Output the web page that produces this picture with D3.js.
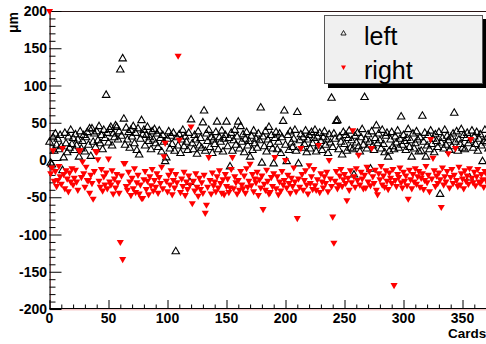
<!DOCTYPE html>
<html><head><meta charset="utf-8">
<script src="https://cdn.jsdelivr.net/npm/d3@7"></script>
<style>
html,body{margin:0;padding:0;background:#fff;overflow:hidden;}
svg{display:block;}
text{font-family:"Liberation Sans",Arial,Helvetica,sans-serif;}
</style></head><body>
<svg id="c" width="486" height="344"></svg>
<script>
// ---- data ----
const seriesNames = ["left", "right"];
const xTicks = [0, 50, 100, 150, 200, 250, 300, 350];
const yTicks = [-200, -150, -100, -50, 0, 50, 100, 150, 200];
const xTitle = "Cards";
const yTitle = "\u03bcm";
// values per card (card number = index)
const leftValues = [
 24, -4, -6, 30, 12, 35, 20, 28, 14, 33,
 18, -14, 3, 36, 22, 10, 31, 16, 40, 21,
 29, 13, 34, 19, 27, 4, 38, 15, 25, 33,
 11, 30, 37, 20, 42, 5, 42, 24, 35, 17,
 38, 26, 45, 22, 33, 14, 40, 29, 87, 36,
 23, 41, 44, 19, 35, 30, 46, 44, 27, 38,
 121, 32, 136, 55, 20, 43, 27, 37, 16, 40,
 31, 45, 22, 36, 13, 42, 7, 28, 53, 34,
 40, 19, 33, 44, 25, 30, 14, 38, 27, 41,
 22, 35, 17, 39, 29, 11, 33, 24, -2, 3,
 28, 38, 15, 32, 21, 36, 12, -123, 30, 19,
 34, 9, 27, 40, 18, 31, 24, 13, 36, -30,
 54, 22, 14, 33, 27, 8, 38, 19, 29, 16,
 50, 66, 12, 35, 25, 40, 17, 30, 9, 27,
 21, 37, 51, 14, 30, 24, 39, 11, 28, 33,
 51, 18, 29, -9, 36, 12, 26, 40, 20, 31,
 51, 15, 45, 24, 34, 10, 28, 37, 19, 25,
 4, 32, 13, 39, 22, 28, 16, 35, 26, 70,
 -4, 31, 18, 38, 11, 27, 44, 21, 33, 15,
 -5, 29, 37, 14, 24, 35, 9, 30, 52, 66,
 20, -2, 33, 13, 38, 23, 17, 28, 40, 12,
 64, -5, 26, 34, 16, 30, 21, 39, 10, 27,
 33, 15, 37, 22, 29, 40, 11, 31, 19, 36,
 25, 13, 30, 38, 20, 27, 9, 34, 23, 83,
 17, 35, 28, 52, 53, 14, 31, 24, 7, 37,
 21, 33, 12, 29, 39, 16, 26, 14, -20, 32,
 23, 36, 18, 11, 30, 41, 20, 84, 27, 15,
 34, 24, -12, 38, 19, 13, 29, 46, 22, 35,
 26, 15, 40, 21, 10, 32, 36, 4, 12, 27,
 37, 18, 14, 31, 23, 39, 16, 28, 58, 20,
 33, 25, 13, 29, 41, 17, 26, 4, 35, 15,
 22, 38, 27, 11, 30, 12, 59, 24, 36, 4,
 19, 33, 14, 39, 21, 28, 10, 34, 25, 17,
 37, -46, 23, 29, 15, 40, 20, 32, 26, 13,
 30, 18, 35, 63, 24, 38, 12, 27, 21, 41,
 16, 33, 14, 29, 36, 22, -24, 26, 39, 16,
 31, 21, 37, 12, 28, 34, 19, -2, 25, 40,
 23, 30, 15, 35, 20, 28
];
const rightValues = [
 200, -18, -10, 13, -28, -15, -35, -27, -8, -22,
 -32, 16, -19, -38, -14, -25, -42, -17, -29, -11,
 -33, -24, -13, -29, -40, 13, 13, -23, -2, -18,
 -36, -9, -27, -27, -44, -20, -31, -52, -15, 12,
 11, 1, -28, -36, -12, -41, -22, -33, -17, -38,
 2, -29, -33, -14, -45, -25, -37, -19, -30, -44,
 -110, -21, -133, -4, -4, -35, -40, -16, -29, -47,
 -24, -38, -11, -43, -30, -20, -45, -33, -51, -51,
 -26, -15, -39, -28, -46, -22, -34, -12, -41, -27,
 -36, -18, -44, -23, -31, -9, -38, 5, 23, -28,
 -42, -20, -33, -14, -46, -27, -37, -19, -30, 140,
 27, -43, -25, -35, -16, -47, -29, -39, -21, -33,
 45, -58, -28, -41, -18, -36, -48, -24, -39, -30,
 -44, -20, -71, -60, -36, 4, -27, -45, -17, -34,
 -29, -42, -22, -37, -14, -31, -44, -26, -46, -19,
 -35, -25, -43, -37, -12, 4, -38, -22, -30, -45,
 -27, -40, -15, -33, -38, -21, -44, -11, -36, -28,
 -5, -34, -19, -42, -25, -30, -16, -47, -26, -37,
 -21, -66, -32, -40, -13, -28, -45, -43, -23, -35,
 -18, 4, -38, -22, -46, -29, -41, -15, -33, -27,
 0, -37, -20, -31, -44, -24, -35, -10, -29, -42,
 -78, -25, -36, 16, -19, -40, -27, -14, -33, -45,
 -7, -31, -22, -39, -12, -34, -40, -26, 20, -43,
 -18, -29, -37, -22, -31, -16, -42, 0, -25, -35,
 -76, -111, -28, -15, -38, -33, -21, -12, -35, -26,
 -19, -31, -54, -24, -40, -14, -30, 40, -22, -36,
 -11, -27, 7, -33, -16, -25, -38, -20, -37, -9,
 -29, -15, -34, 16, -22, -31, -13, -40, -46, -18,
 -26, -8, -33, -21, -36, -14, -28, -39, -17, -24,
 -31, -12, -168, -27, -35, -19, -23, -10, -30, -37,
 -16, -28, -21, -34, -52, -13, -26, -38, -19, -29,
 -11, -32, -22, -15, -36, -24, -18, -39, -27, -8,
 -30, -20, -42, 28, -25, 3, -14, -35, -21, -31,
 -17, -26, -63, -10, -33, -22, -29, -15, 9, -37,
 -23, -12, -31, -20, 16, -27, -35, -9, -33, -18,
 -25, -38, -14, -28, -21, -32, -11, 28, -24, -30,
 -16, -34, -22, -12, -29, -31, -19, -26, -36, -15,
 -27, -20, -33, -13, -25, -18
];

// ---- drawing ----
const svg = d3.select("#c");
const W = 486, H = 344;
const x = d3.scaleLinear().domain([0, 400]).range([49.5, 521.5]);
const y = d3.scaleLinear().domain([-200, 200]).range([309, 11]);

const plot = svg.append("g");
// frame
plot.append("line").attr("x1", x(0)).attr("x2", W + 40).attr("y1", 11.5).attr("y2", 11.5)
  .attr("stroke", "#2a1515").attr("stroke-width", 1.2);
// red graph-frame tint just inside axes
plot.append("line").attr("x1", x(0) + 1).attr("x2", x(0) + 1).attr("y1", 11).attr("y2", 309)
  .attr("stroke", "#e05050").attr("stroke-width", 0.8).attr("opacity", 0.7);
plot.append("line").attr("x1", x(0)).attr("x2", W + 40).attr("y1", 309.8).attr("y2", 309.8)
  .attr("stroke", "#e05050").attr("stroke-width", 0.8).attr("opacity", 0.6);

// y axis (ticks inside)
const yMinor = d3.range(-200, 201, 10).filter(v => v % 50 !== 0);
const yAxis = d3.axisRight(y).tickValues(yTicks).tickSize(12).tickFormat("");
const gy = svg.append("g").attr("transform", `translate(${x(0)},0)`).call(yAxis);
gy.select(".domain").attr("stroke", "#000").attr("d", `M0.5,${y(200)}V${y(-200)}`);
gy.selectAll(".tick line").attr("stroke", "#000");
const gyMinor = svg.append("g").attr("transform", `translate(${x(0)},0)`)
  .call(d3.axisRight(y).tickValues(yMinor).tickSize(6).tickFormat(""));
gyMinor.select(".domain").remove();
gyMinor.selectAll(".tick line").attr("stroke", "#000");
svg.append("g").selectAll("text").data(yTicks).join("text")
  .attr("x", 47).attr("y", d => y(d)).attr("dy", "0.36em")
  .attr("text-anchor", "end").attr("font-size", 14).attr("font-weight", "bold")
  .text(d => d);

// x axis (ticks inside)
const xMinor = d3.range(0, 401, 10).filter(v => v % 50 !== 0);
const gx = svg.append("g").attr("transform", `translate(0,${y(-200)})`)
  .call(d3.axisTop(x).tickValues(xTicks.concat([400])).tickSize(9).tickFormat(""));
gx.select(".domain").attr("stroke", "#000").attr("d", `M${x(0)},-0.5H${W + 40}`);
gx.selectAll(".tick line").attr("stroke", "#000");
const gxMinor = svg.append("g").attr("transform", `translate(0,${y(-200)})`)
  .call(d3.axisTop(x).tickValues(xMinor).tickSize(4.5).tickFormat(""));
gxMinor.select(".domain").remove();
gxMinor.selectAll(".tick line").attr("stroke", "#000");
svg.append("g").selectAll("text").data(xTicks).join("text")
  .attr("x", d => x(d)).attr("y", 322.5)
  .attr("text-anchor", "middle").attr("font-size", 14).attr("font-weight", "bold")
  .text(d => d);

// titles
svg.append("text").attr("x", 448).attr("y", 338).attr("font-size", 13.5)
  .attr("font-weight", "bold").text(xTitle);
svg.append("text").attr("transform", "translate(18,12) rotate(-90)")
  .attr("text-anchor", "end").attr("font-size", 14).attr("font-weight", "bold").text(yTitle);

// markers
const triUp = d3.symbol().type(d3.symbolTriangle).size(24);
const triDn = d3.symbol().type(d3.symbolTriangle).size(22);
const marks = svg.append("g");
marks.append("g").selectAll("path").data(leftValues).join("path")
  .attr("d", triUp)
  .attr("transform", (d, i) => `translate(${x(i)},${y(d)})`)
  .attr("fill", "none").attr("stroke", "#000").attr("stroke-width", 1.1);
marks.append("g").selectAll("path").data(rightValues).join("path")
  .attr("d", triDn)
  .attr("transform", (d, i) => `translate(${x(i)},${y(d)}) rotate(180)`)
  .attr("fill", "#ff0000").attr("stroke", "none");

// legend
const lg = svg.append("g");
lg.append("rect").attr("x", 328).attr("y", 19).attr("width", 159).attr("height", 69).attr("fill", "#000");
lg.append("rect").attr("x", 324.5).attr("y", 15.5).attr("width", 158).attr("height", 68)
  .attr("fill", "#f0f0f0").attr("stroke", "#555").attr("stroke-width", 1);
const legItems = [
  {name: seriesNames[0], y: 33.5, up: true},
  {name: seriesNames[1], y: 67, up: false}
];
legItems.forEach(it => {
  const p = lg.append("path").attr("d", it.up ? triUp : triDn);
  if (it.up) p.attr("transform", `translate(343.5,${it.y}) scale(0.7)`).attr("fill", "none").attr("stroke", "#000").attr("stroke-width", 1.2);
  else p.attr("transform", `translate(343.5,${it.y}) rotate(180) scale(0.7)`).attr("fill", "#ff0000");
  lg.append("text").attr("x", 364).attr("y", it.y + 11.5).attr("font-size", 25).attr("fill", "#000").text(it.name);
});
</script>
</body></html>
